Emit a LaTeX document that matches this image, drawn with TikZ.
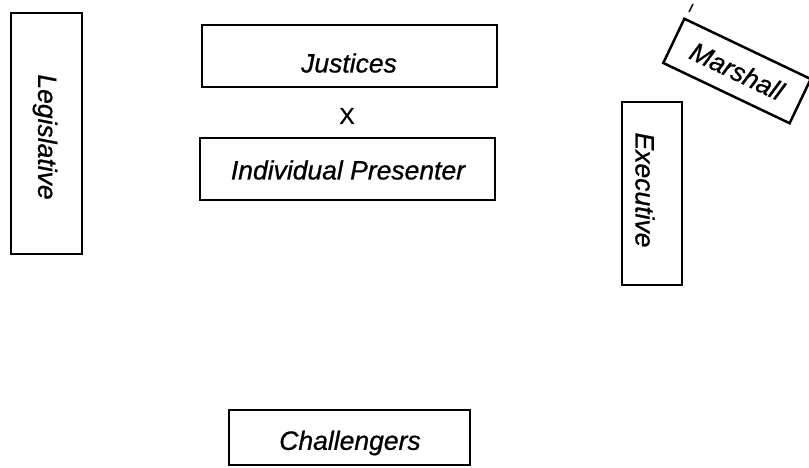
\documentclass[tikz,border=0pt]{standalone}
\usepackage{fontspec}
\setmainfont{Liberation Sans}[ItalicFeatures={FakeBold=0.8}]
\newfontfamily\xfont{Liberation Sans}[FakeBold=0.8]
\begin{document}
\begin{tikzpicture}[x=1pt,y=-1pt,
  box/.style={draw, line width=2.5pt, inner sep=0pt, fill=none},
  lbl/.style={inner sep=0pt, font=\fontsize{26.5}{30}\selectfont\itshape}]
\useasboundingbox (0,0) rectangle (809,468);
% Legislative
\node[box, rotate=-90, minimum width=241pt, minimum height=71pt] (leg) at (46.5,133.5) {};
\node[lbl, rotate=-90] (legt) at (45,137) {Legislative};
% Justices
\node[box, minimum width=295pt, minimum height=62pt] (jus) at (349.5,56) {};
\node[lbl] (just) at (349,63) {Justices};
% X
\node[inner sep=0pt, font=\fontsize{23}{26}\selectfont\xfont] (x) at (347,116) {X};
% Individual Presenter
\node[box, minimum width=295pt, minimum height=62pt] (ind) at (347.5,169) {};
\node[lbl] (indt) at (348,170) {Individual Presenter};
% Marshall
\node[box, lbl, rotate=-25.5, minimum width=140pt, minimum height=49pt] (mar) at (737,71) {Marshall};
\coordinate (tk1) at (689,12);
\coordinate (tk2) at (693,4);
\draw[line width=1.5pt] (tk1) -- (tk2);
% Executive
\node[box, rotate=-90, minimum width=183pt, minimum height=60pt] (exe) at (652,193.5) {};
\node[lbl, rotate=-90] (exet) at (645,190) {Executive};
% Challengers
\node[box, minimum width=241pt, minimum height=55pt] (cha) at (349.5,437.5) {};
\node[lbl] (chat) at (350,443) {Challengers};
\end{tikzpicture}
\end{document}
